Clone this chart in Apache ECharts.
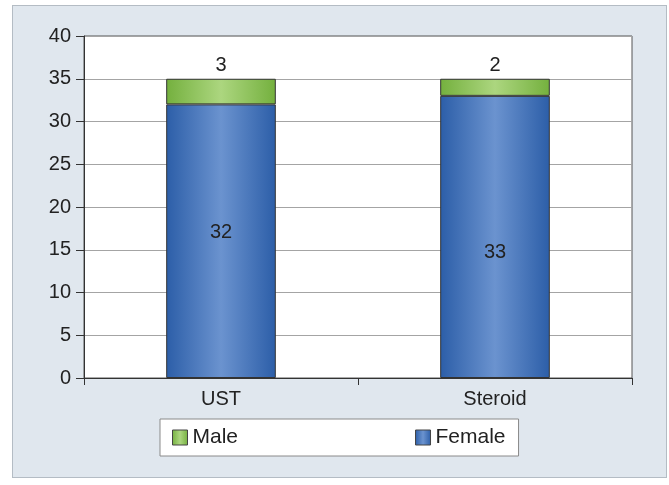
<!DOCTYPE html>
<html>
<head>
<meta charset="utf-8">
<script src="https://cdn.jsdelivr.net/npm/echarts@6/dist/echarts.min.js"></script>
<style>
  html, body { margin: 0; padding: 0; background: #fff; }
  #frame {
    position: absolute; left: 12px; top: 5px; width: 653px; height: 471px;
    background: #e0e7ee; border: 1px solid #b4bcc4;
  }
  #chart { position: absolute; left: 0; top: 0; width: 669px; height: 485px; }
</style>
</head>
<body>
<div id="frame"></div>
<div id="chart"></div>
<script>
// chart data
var categories = ['UST', 'Steroid']
var femaleData = [32, 33]
var maleData = [3, 2]
var yTicks = { min: 0, max: 40, interval: 5 }

var chart = echarts.init(document.getElementById('chart'))
var textColor = '#222'
var font = 'Liberation Sans, Arial, sans-serif'

var blueFill = new echarts.graphic.LinearGradient(0, 0, 1, 0, [
  { offset: 0, color: '#2c5ea8' },
  { offset: 0.5, color: '#6b93cf' },
  { offset: 1, color: '#2c5ea8' }
])
var greenFill = new echarts.graphic.LinearGradient(0, 0, 1, 0, [
  { offset: 0, color: '#74b03e' },
  { offset: 0.5, color: '#acd67f' },
  { offset: 1, color: '#74b03e' }
])

// inside labels sit slightly off-centre in the original
var femaleLabelOffset = [[0, -9], [0, 16]]

chart.setOption({
  backgroundColor: 'transparent',
  textStyle: { fontFamily: font },
  grid: {
    left: 84,
    right: 37,
    top: 36,
    bottom: 107,
    show: true,
    backgroundColor: '#fff',
    borderColor: '#555',
    borderWidth: 1
  },
  legend: {
    left: 160,
    top: 419,
    data: ['Male', 'Female'],
    icon: 'rect',
    itemWidth: 15,
    itemHeight: 15,
    itemGap: 177,
    padding: [8, 13, 8, 12],
    backgroundColor: '#fff',
    borderColor: '#8a8a8a',
    borderWidth: 1,
    borderRadius: 0,
    textStyle: { color: textColor, fontSize: 21, fontFamily: font },
    itemStyle: { borderColor: '#444', borderWidth: 1 }
  },
  xAxis: {
    type: 'category',
    data: categories,
    axisLine: { lineStyle: { color: '#333', width: 1 } },
    axisTick: { show: true, length: 7, lineStyle: { color: '#333' } },
    axisLabel: { color: textColor, fontSize: 20, margin: 11, fontFamily: font }
  },
  yAxis: {
    type: 'value',
    min: yTicks.min,
    max: yTicks.max,
    interval: yTicks.interval,
    axisLine: { show: true, lineStyle: { color: '#333', width: 1 } },
    axisTick: { show: true, length: 8, lineStyle: { color: '#333' } },
    axisLabel: { color: textColor, fontSize: 20, margin: 13, fontFamily: font },
    splitLine: { lineStyle: { color: '#a4a4a4', width: 1 } }
  },
  series: [
    {
      name: 'Female',
      type: 'bar',
      stack: 'total',
      barWidth: '40%',
      data: femaleData.map(function (v, i) {
        return { value: v, label: { offset: femaleLabelOffset[i] } }
      }),
      itemStyle: { color: blueFill, borderColor: '#333', borderWidth: 1 },
      label: {
        show: true,
        position: 'inside',
        color: textColor,
        fontSize: 20,
        fontFamily: font
      }
    },
    {
      name: 'Male',
      type: 'bar',
      stack: 'total',
      barWidth: '40%',
      data: maleData,
      itemStyle: { color: greenFill, borderColor: '#333', borderWidth: 1 },
      label: {
        show: true,
        position: 'top',
        distance: 3,
        color: textColor,
        fontSize: 20,
        fontFamily: font
      }
    }
  ]
})
</script>
</body>
</html>
